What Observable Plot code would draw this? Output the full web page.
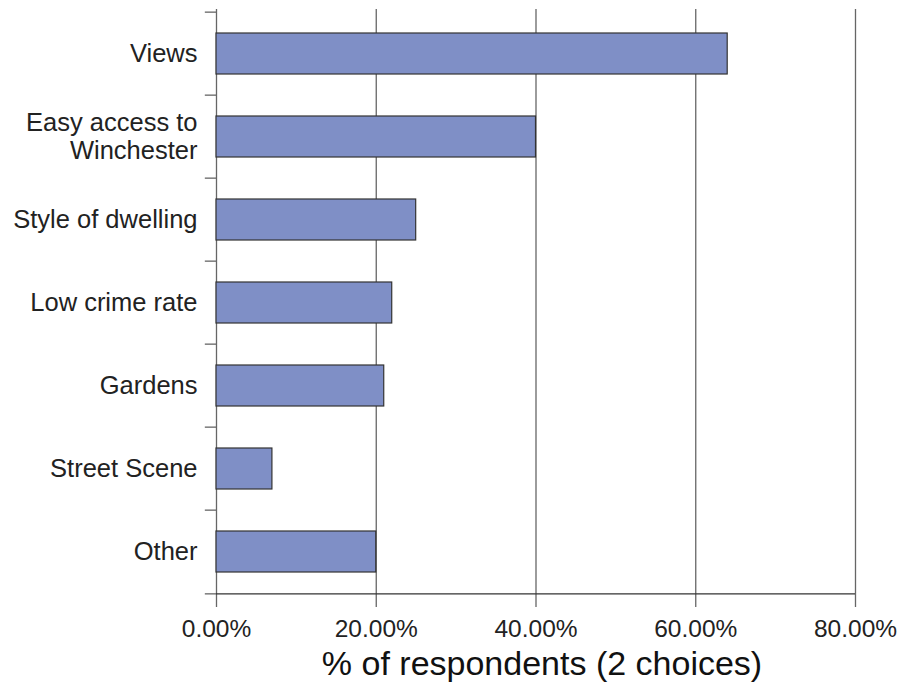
<!DOCTYPE html>
<html>
<head>
<meta charset="utf-8">
<script src="https://cdn.jsdelivr.net/npm/d3@7"></script>
<script src="https://cdn.jsdelivr.net/npm/@observablehq/plot@0.6"></script>
<style>
  html, body { margin: 0; padding: 0; background: #fff; }
</style>
</head>
<body>
<div id="chart"></div>
<script>
const categories = ["Views", "Easy access to\nWinchester", "Style of dwelling", "Low crime rate", "Gardens", "Street Scene", "Other"];
const values = [64, 40, 25, 22, 21, 7, 20];
const xTicks = [0, 20, 40, 60, 80];
const axisTitle = "% of respondents (2 choices)";

const data = categories.map((c, i) => ({category: c, value: values[i]}));

const W = 903, H = 684;
const mTop = 9, mBottom = 89, mLeft = 216, mRight = 48;
const half = (H - mTop - mBottom) / categories.length / 2;

const chart = Plot.plot({
  width: W,
  height: H,
  marginTop: mTop,
  marginBottom: mBottom,
  marginLeft: mLeft,
  marginRight: mRight,
  style: {fontFamily: "'Liberation Sans', Arial, sans-serif", background: "#fff", color: "#222"},
  x: {domain: [0, 80], ticks: xTicks},
  y: {domain: categories, padding: 0, label: null, axis: null},
  marks: [
    Plot.ruleX(xTicks, {x: d => d, stroke: "#666", strokeWidth: 1.3, insetBottom: -12}),
    Plot.barX(data, {x: "value", y: "category", fill: "#7F8FC6", stroke: "#333", strokeWidth: 1.2, insetTop: 21, insetBottom: 21}),
    Plot.ruleY([categories[categories.length - 1]], {y: d => d, x1: 0, x2: 80, dy: half, stroke: "#333", strokeWidth: 1.3}),
    Plot.ruleY(categories, {y: d => d, x1: -1.4, x2: 0, dy: -half, stroke: "#666", strokeWidth: 1.3}),
    Plot.ruleY([categories[categories.length - 1]], {y: d => d, x1: -1.4, x2: 0, dy: half, stroke: "#666", strokeWidth: 1.3}),
    Plot.text(categories, {y: d => d, x: 0, dx: -19, dy: -1, textAnchor: "end", fontSize: 25.5, lineHeight: 1.1, fill: "#222"}),
    Plot.axisX(xTicks, {tickSize: 0, tickPadding: 24, tickFormat: d => d.toFixed(2) + "%", fontSize: 24.5, fill: "#222", label: null}),
    Plot.text([axisTitle], {frameAnchor: "bottom", lineAnchor: "middle", dx: 6, dy: 69, fontSize: 34, fill: "#111"})
  ]
});
document.getElementById("chart").appendChild(chart);
</script>
</body>
</html>
